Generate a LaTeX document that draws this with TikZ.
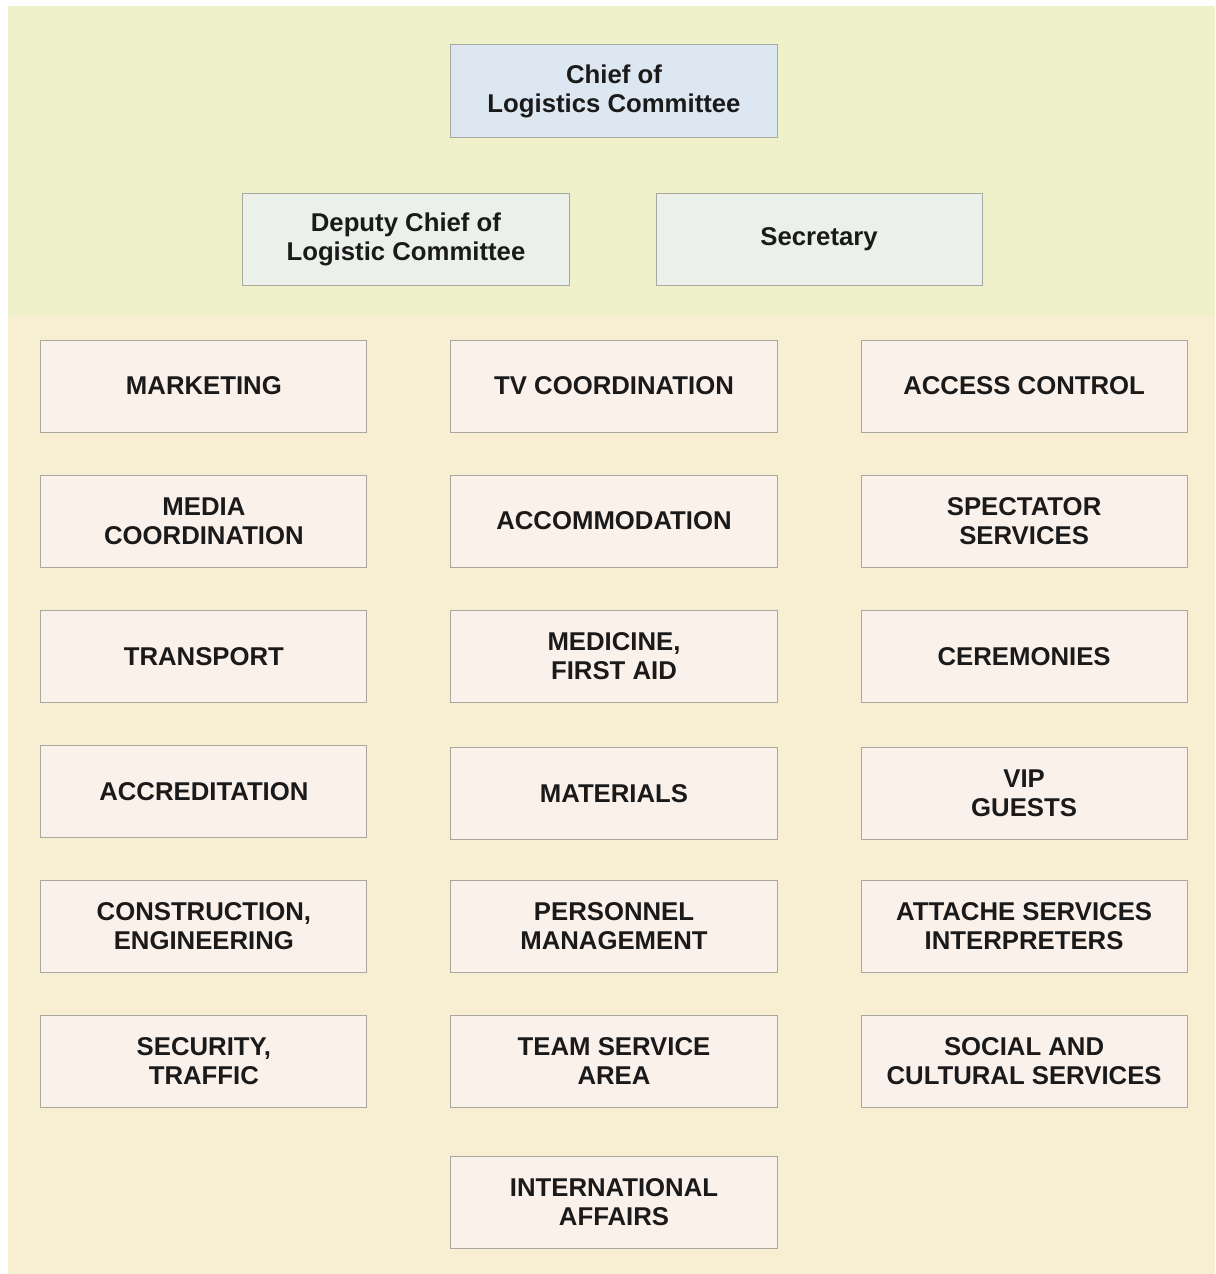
\documentclass[tikz,border=0pt]{standalone}
\usepackage{fontspec}
\setmainfont{Liberation Sans}
\usetikzlibrary{positioning}

\definecolor{topband}{HTML}{EFF1CA}
\definecolor{lowband}{HTML}{F8EFD2}
\definecolor{chieffill}{HTML}{DCE7F2}
\definecolor{staffill}{HTML}{ECF0EA}
\definecolor{unitfill}{HTML}{FAF1EB}
\definecolor{boxline}{HTML}{A8A8A0}
\definecolor{textdark}{HTML}{1A1A1A}

\begin{document}
\begin{tikzpicture}[
    x=0.025cm, y=-0.025cm,
    node distance=1.075cm and 2.1cm,
    box/.style={draw=boxline, line width=0.7pt, outer sep=0pt, rectangle, minimum width=8.15cm, minimum height=2.3cm, text centered, align=center, text=textdark, font=\fontsize{18.3}{20.6}\selectfont\bfseries},
    unitbox/.style={box, fill=unitfill}
]
\useasboundingbox (0,0) rectangle (1215,1274);

% bands
\fill[topband] (8,6) rectangle (1215,316);
\fill[lowband] (8,316) rectangle (1215,1274);

% committee heads
\node[box, fill=chieffill] (chief) at (614,91) {Chief of\\Logistics Committee};
\node[box, fill=staffill, below=1.4cm of chief, xshift=-5.2cm] (deputy) {Deputy Chief of\\Logistic Committee};
\node[box, fill=staffill, right=2.175cm of deputy] (secretary) {Secretary};

% units
\node[unitbox, below=5.075cm of chief] (tv) {TV COORDINATION};
\node[unitbox, left=of tv] (marketing) {MARKETING};
\node[unitbox, right=of tv] (access) {ACCESS CONTROL};

\node[unitbox, below=of marketing] (media) {MEDIA\\COORDINATION};
\node[unitbox, below=of tv] (accommodation) {ACCOMMODATION};
\node[unitbox, below=of access] (spectator) {SPECTATOR\\SERVICES};

\node[unitbox, below=of media] (transport) {TRANSPORT};
\node[unitbox, below=of accommodation] (medicine) {MEDICINE,\\FIRST AID};
\node[unitbox, below=of spectator] (ceremonies) {CEREMONIES};

\node[unitbox, below=of transport] (accreditation) {ACCREDITATION};
\node[unitbox, below=1.125cm of medicine] (materials) {MATERIALS};
\node[unitbox, below=1.125cm of ceremonies] (vip) {VIP\\GUESTS};

\node[unitbox, below=of accreditation] (construction) {CONSTRUCTION,\\ENGINEERING};
\node[unitbox, below=1.025cm of materials] (personnel) {PERSONNEL\\MANAGEMENT};
\node[unitbox, below=1.025cm of vip] (attache) {ATTACHE SERVICES\\INTERPRETERS};

\node[unitbox, below=of construction] (security) {SECURITY,\\TRAFFIC};
\node[unitbox, below=of personnel] (teamarea) {TEAM SERVICE\\AREA};
\node[unitbox, below=of attache] (social) {SOCIAL AND\\CULTURAL SERVICES};

\node[unitbox, below=1.225cm of teamarea] (intl) {INTERNATIONAL\\AFFAIRS};
\end{tikzpicture}
\end{document}
